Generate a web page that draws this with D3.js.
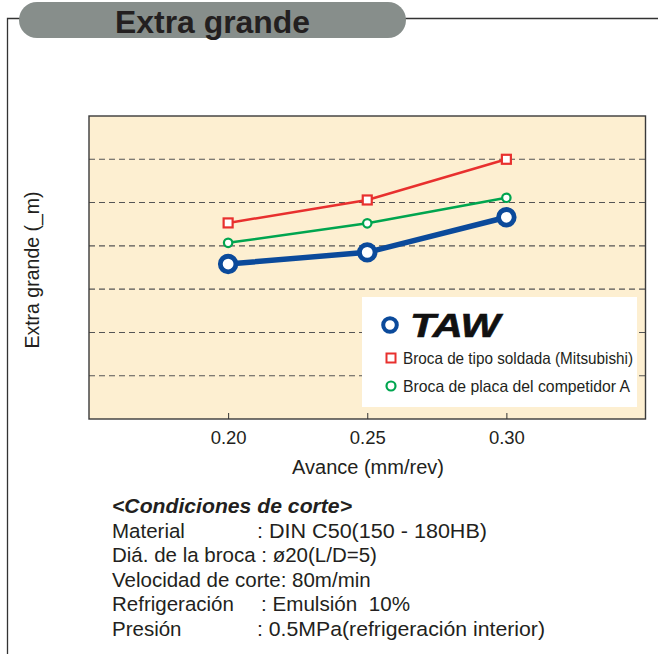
<!DOCTYPE html>
<html><head><meta charset="utf-8">
<script src="https://cdn.jsdelivr.net/npm/d3@7"></script>
<style>body{margin:0;background:#fff;}svg{display:block;font-family:"Liberation Sans",Arial,sans-serif;}text{white-space:pre;}</style>
</head><body><svg id="c" width="658" height="654"></svg>
<script>
const feeds = [0.20, 0.25, 0.30];
const xTicks = ["0.20", "0.25", "0.30"];
const tawValues = [3.58, 3.85, 4.66];
const mitsubishiValues = [4.53, 5.06, 6.00];
const competitorValues = [4.07, 4.52, 5.11];
const gridValues = [1, 2, 3, 4, 5, 6];
const seriesNames = ["TAW", "Broca de tipo soldada (Mitsubishi)", "Broca de placa del competidor A"];
const condLabels = ["Material", "Diá. de la broca : ø20(L/D=5)", "Velocidad de corte: 80m/min", "Refrigeración", "Presión"];
const condValues = [": DIN C50(150 - 180HB)", "", "", ": Emulsión  10%", ": 0.5MPa(refrigeración interior)"];

const svg = d3.select("#c");
const L = 89, R = 645.5, T = 116, B = 419;
const x = d3.scaleLinear().domain([0.15, 0.35]).range([L, R]);
const y = d3.scaleLinear().domain([0, 7]).range([B, T]);

// frame
svg.append("path").attr("d", "M7.5,654 V18.5 H658").attr("fill", "none").attr("stroke", "#333").attr("stroke-width", 1.3);
svg.append("rect").attr("x", 19).attr("y", 2).attr("width", 387).attr("height", 36).attr("rx", 18).attr("fill", "#878e8b");
svg.append("text").attr("x", 115).attr("y", 33).attr("font-size", 32).attr("font-weight", "bold")
  .attr("fill", "#231f20").attr("textLength", 195).attr("lengthAdjust", "spacingAndGlyphs").text("Extra grande");

// plot bg
svg.append("rect").attr("x", L).attr("y", T).attr("width", R - L).attr("height", B - T).attr("fill", "#fdefd1");
svg.append("g").selectAll("line").data(gridValues).join("line")
  .attr("x1", L).attr("x2", R).attr("y1", d => y(d)).attr("y2", d => y(d))
  .attr("stroke", "#555").attr("stroke-width", 1.1).attr("stroke-dasharray", "6,4");
svg.append("rect").attr("x", L).attr("y", T).attr("width", R - L).attr("height", B - T)
  .attr("fill", "none").attr("stroke", "#3a3a3a").attr("stroke-width", 1.4);

// x axis
const xa = svg.append("g").attr("transform", `translate(0,${B})`)
  .call(d3.axisBottom(x).tickValues(feeds).tickFormat((d, i) => xTicks[i]).tickSizeInner(-6).tickSizeOuter(0).tickPadding(12));
xa.select(".domain").remove();
xa.selectAll("line").attr("stroke", "#333");
xa.selectAll("text").attr("font-size", 18.5).attr("fill", "#231f20").attr("font-family", "Liberation Sans, Arial");

svg.append("text").attr("x", 368).attr("y", 474).attr("text-anchor", "middle").attr("font-size", 20).attr("fill", "#231f20").text("Avance (mm/rev)");
svg.append("text").attr("transform", "translate(39,270) rotate(-90)").attr("text-anchor", "middle").attr("font-size", 19.5).attr("fill", "#231f20").text("Extra grande (_m)");

// legend box
svg.append("rect").attr("x", 362).attr("y", 297).attr("width", 275).attr("height", 110).attr("fill", "#fff");

const line = d3.line().x((d, i) => x(feeds[i])).y(d => y(d));
// red
svg.append("path").datum(mitsubishiValues).attr("d", line).attr("fill", "none").attr("stroke", "#e8302e").attr("stroke-width", 2.5);
svg.append("g").selectAll("rect").data(mitsubishiValues).join("rect")
  .attr("x", (d, i) => x(feeds[i]) - 4.5).attr("y", d => y(d) - 4.5).attr("width", 9).attr("height", 9)
  .attr("fill", "#fff").attr("stroke", "#e8302e").attr("stroke-width", 2.2);
// green
svg.append("path").datum(competitorValues).attr("d", line).attr("fill", "none").attr("stroke", "#00a54f").attr("stroke-width", 2.5);
svg.append("g").selectAll("circle").data(competitorValues).join("circle")
  .attr("cx", (d, i) => x(feeds[i])).attr("cy", d => y(d)).attr("r", 4.2)
  .attr("fill", "#fff").attr("stroke", "#00a54f").attr("stroke-width", 2.2);
// blue
svg.append("path").datum(tawValues).attr("d", line).attr("fill", "none").attr("stroke", "#0b4a9b").attr("stroke-width", 5.5);
svg.append("g").selectAll("circle").data(tawValues).join("circle")
  .attr("cx", (d, i) => x(feeds[i])).attr("cy", d => y(d)).attr("r", 7.8)
  .attr("fill", "#fff").attr("stroke", "#0b4a9b").attr("stroke-width", 4.8);

// legend contents
svg.append("circle").attr("cx", 390).attr("cy", 325).attr("r", 6.8).attr("fill", "#fff").attr("stroke", "#0b4a9b").attr("stroke-width", 4);
svg.append("text").attr("x", 410).attr("y", 337).attr("font-size", 33).attr("font-weight", "900").attr("font-style", "italic")
  .attr("fill", "#111").attr("stroke", "#111").attr("stroke-width", 0.6)
  .attr("textLength", 90).attr("lengthAdjust", "spacingAndGlyphs").text(seriesNames[0]);
svg.append("rect").attr("x", 386.5).attr("y", 353.5).attr("width", 9).attr("height", 9).attr("fill", "#fff").attr("stroke", "#e8302e").attr("stroke-width", 2);
svg.append("text").attr("x", 403).attr("y", 364).attr("font-size", 16.5).attr("fill", "#231f20")
  .attr("textLength", 230).attr("lengthAdjust", "spacingAndGlyphs").text(seriesNames[1]);
svg.append("circle").attr("cx", 391).attr("cy", 386).attr("r", 4.5).attr("fill", "#fff").attr("stroke", "#00a54f").attr("stroke-width", 2.2);
svg.append("text").attr("x", 403).attr("y", 392).attr("font-size", 16.5).attr("fill", "#231f20")
  .attr("textLength", 227).attr("lengthAdjust", "spacingAndGlyphs").text(seriesNames[2]);

// conditions
svg.append("text").attr("x", 112).attr("y", 513).attr("font-size", 20.5).attr("font-weight", "bold").attr("font-style", "italic")
  .attr("fill", "#231f20").attr("textLength", 240).attr("lengthAdjust", "spacingAndGlyphs").text("<Condiciones de corte>");
const colX = [257, 0, 0, 261, 257];
const valWidth = [230, 0, 0, 149, 288];
condLabels.forEach((lab, i) => {
  const yy = 537.5 + i * 24.5;
  svg.append("text").attr("x", 112).attr("y", yy).attr("font-size", 20.5).attr("fill", "#231f20").text(lab);
  if (condValues[i]) svg.append("text").attr("x", colX[i]).attr("y", yy).attr("font-size", 20.5).attr("fill", "#231f20")
    .attr("textLength", valWidth[i]).attr("lengthAdjust", "spacingAndGlyphs").text(condValues[i]);
});
</script></body></html>
